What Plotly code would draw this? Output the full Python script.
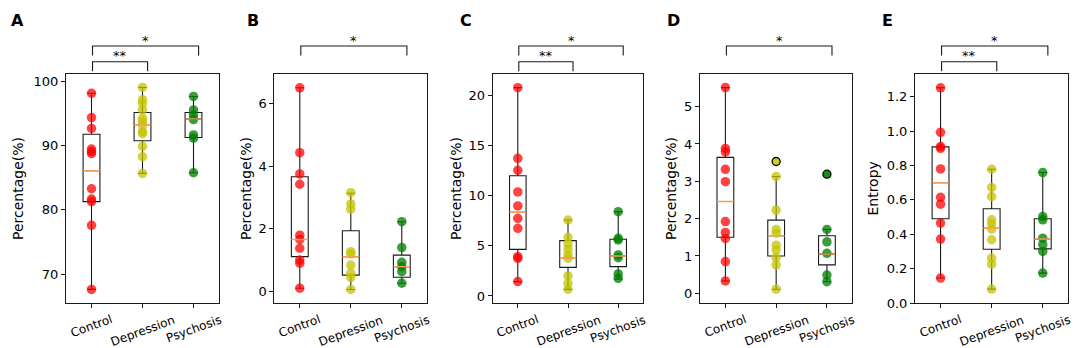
import plotly.graph_objects as go

W, H = 1084, 348

categories = ["Control", "Depression", "Psychosis"]
positions = [1, 2, 3]
panel_letters = ["A", "B", "C", "D", "E"]
y_titles = ["Percentage(%)", "Percentage(%)", "Percentage(%)", "Percentage(%)", "Entropy"]

# ---- Panel A ----
A_control = [98.2, 94.4, 92.7, 89.5, 89.1, 88.8, 83.3, 81.7, 81.3, 77.6, 67.6]
A_depression = [99.1, 97.2, 96.6, 95.6, 94.3, 93.8, 93.2, 92.2, 91.9, 89.9, 88.3, 85.7]
A_psychosis = [97.7, 95.6, 94.8, 94.1, 91.7, 91.2, 85.8]
A_q1 = [81.3, 90.8, 91.3]
A_med = [86.1, 93.3, 94.2]
A_q3 = [91.8, 95.2, 95.2]
A_lo = [67.6, 85.7, 85.8]
A_hi = [98.2, 99.1, 97.7]
A_fliers = [[], [], []]
A_ticks = [70, 80, 90, 100]
A_range = [65.48, 101.28]

# ---- Panel B ----
B_control = [6.51, 4.43, 3.75, 3.42, 1.79, 1.65, 1.37, 0.99, 0.89, 0.09]
B_depression = [3.15, 2.79, 2.62, 1.26, 1.19, 0.83, 0.57, 0.43, 0.05]
B_psychosis = [2.22, 1.39, 0.92, 0.78, 0.62, 0.25]
B_q1 = [1.10, 0.51, 0.44]
B_med = [1.65, 1.10, 0.78]
B_q3 = [3.66, 1.93, 1.15]
B_lo = [0.09, 0.05, 0.25]
B_hi = [6.51, 3.13, 2.22]
B_fliers = [[], [], []]
B_ticks = [0, 2, 4, 6]
B_range = [-0.384, 6.967]

# ---- Panel C ----
C_control = [20.73, 13.7, 12.5, 10.35, 8.96, 7.73, 6.73, 3.91, 3.75, 1.43]
C_depression = [7.56, 5.84, 5.17, 4.64, 4.08, 3.75, 1.99, 1.26, 0.66]
C_psychosis = [8.39, 5.74, 5.57, 4.08, 3.81, 2.19, 1.76]
C_q1 = [4.64, 2.85, 2.92]
C_med = [8.33, 3.75, 3.98]
C_q3 = [11.97, 5.51, 5.64]
C_lo = [1.43, 0.66, 1.66]
C_hi = [20.73, 7.56, 8.39]
C_fliers = [[], [], []]
C_ticks = [0, 5, 10, 15, 20]
C_range = [-0.70, 22.14]

# ---- Panel D ----
D_control = [5.51, 3.88, 3.79, 3.32, 2.99, 1.92, 1.63, 1.47, 0.85, 0.33]
D_depression = [3.13, 2.23, 1.71, 1.61, 1.29, 1.16, 0.96, 0.76, 0.11]
D_psychosis = [1.71, 1.38, 1.07, 0.49, 0.31]
D_q1 = [1.50, 1.00, 0.76]
D_med = [2.46, 1.54, 1.05]
D_q3 = [3.64, 1.96, 1.54]
D_lo = [0.33, 0.11, 0.31]
D_hi = [5.51, 3.13, 1.71]
D_fliers = [[], [3.53], [3.19]]
D_ticks = [0, 1, 2, 3, 4, 5]
D_range = [-0.26, 5.888]

# ---- Panel E ----
E_control = [1.252, 0.993, 0.910, 0.900, 0.780, 0.615, 0.575, 0.465, 0.372, 0.145]
E_depression = [0.778, 0.672, 0.619, 0.484, 0.461, 0.430, 0.368, 0.261, 0.226, 0.081]
E_psychosis = [0.759, 0.503, 0.484, 0.377, 0.339, 0.300, 0.174]
E_q1 = [0.490, 0.313, 0.315]
E_med = [0.700, 0.434, 0.372]
E_q3 = [0.908, 0.548, 0.490]
E_lo = [0.145, 0.081, 0.174]
E_hi = [1.252, 0.778, 0.759]
E_fliers = [[], [], []]
E_ticks = [0.0, 0.2, 0.4, 0.6, 0.8, 1.0, 1.2]
E_range = [0.0, 1.335]

# significance brackets: (group i, group j, label, level)
A_sig = [(1, 3, "*", "outer"), (1, 2, "**", "inner")]
B_sig = [(1, 3, "*", "outer")]
C_sig = [(1, 3, "*", "outer"), (1, 2, "**", "inner")]
D_sig = [(1, 3, "*", "outer")]
E_sig = [(1, 3, "*", "outer"), (1, 2, "**", "inner")]

panels = [
    ([A_control, A_depression, A_psychosis], A_q1, A_med, A_q3, A_lo, A_hi, A_fliers, A_ticks, A_range, A_sig, None),
    ([B_control, B_depression, B_psychosis], B_q1, B_med, B_q3, B_lo, B_hi, B_fliers, B_ticks, B_range, B_sig, None),
    ([C_control, C_depression, C_psychosis], C_q1, C_med, C_q3, C_lo, C_hi, C_fliers, C_ticks, C_range, C_sig, None),
    ([D_control, D_depression, D_psychosis], D_q1, D_med, D_q3, D_lo, D_hi, D_fliers, D_ticks, D_range, D_sig, None),
    ([E_control, E_depression, E_psychosis], E_q1, E_med, E_q3, E_lo, E_hi, E_fliers, E_ticks, E_range, E_sig, ".1f"),
]

# layout geometry (pixels)
x_domains_px = [(66, 219), (274.3, 427.3), (492.7, 643.3), (700, 852.3), (915, 1068.3)]
y_top_px, y_bot_px = 73.5, 303
title_x_px = [18.7, 246.7, 456.7, 671.7, 873.3]
letter_x_px = [17.5, 252.5, 465.5, 673, 887.5]
letter_y_px = 21

colors = ["rgba(255,0,0,0.74)", "rgba(195,195,0,0.74)", "rgba(0,128,0,0.77)"]
solid_colors = ["#ff2020", "#d0d020", "#1a8a1a"]
median_color = "#f5a05a"
box_w = 0.33
FONT = "DejaVu Sans"

fig = go.Figure()
layout = dict(
    width=W, height=H, margin=dict(l=0, r=0, t=0, b=0),
    paper_bgcolor="white", plot_bgcolor="white", showlegend=False,
    font=dict(family=FONT, color="black"),
)
annotations = []
shapes = []

y_dom = [1 - y_bot_px / H, 1 - y_top_px / H]
dom_h = y_bot_px - y_top_px

for k, (groups, q1, med, q3, lo, hi, fliers, ticks, yr, sig, fmt) in enumerate(panels):
    sx = "" if k == 0 else str(k + 1)
    xa, ya = "x" + sx, "y" + sx
    # points
    for g, vals in enumerate(groups):
        fig.add_trace(go.Scatter(
            x=[positions[g]] * len(vals), y=vals, mode="markers", xaxis=xa, yaxis=ya,
            marker=dict(size=9.5, color=colors[g], line=dict(width=0)), hoverinfo="skip"))
    # boxes
    for g in range(3):
        fig.add_trace(go.Box(
            x=[positions[g]], q1=[q1[g]], median=[med[g]], q3=[q3[g]],
            lowerfence=[lo[g]], upperfence=[hi[g]], xaxis=xa, yaxis=ya,
            width=box_w, whiskerwidth=0.5, fillcolor="rgba(0,0,0,0)",
            line=dict(color="#1a1a1a", width=1.1), boxpoints=False, hoverinfo="skip"))
        # median line
        fig.add_trace(go.Scatter(
            x=[positions[g] - box_w / 2, positions[g] + box_w / 2], y=[med[g], med[g]],
            mode="lines", xaxis=xa, yaxis=ya, line=dict(color=median_color, width=1.4),
            hoverinfo="skip"))
        # fliers
        if fliers[g]:
            fig.add_trace(go.Scatter(
                x=[positions[g]] * len(fliers[g]), y=fliers[g], mode="markers", xaxis=xa, yaxis=ya,
                marker=dict(size=8, color=solid_colors[g], line=dict(width=1.3, color="black")),
                hoverinfo="skip"))

    d0, d1 = x_domains_px[k]
    axis_common = dict(showline=True, mirror=True, linecolor="#1a1a1a", linewidth=1,
                       ticks="outside", ticklen=4, tickcolor="#1a1a1a", showgrid=False,
                       zeroline=False, automargin=False)
    layout["xaxis" + sx] = dict(domain=[d0 / W, d1 / W], range=[0.5, 3.5], anchor=ya,
                                tickvals=positions, showticklabels=False, **axis_common)
    ydict = dict(domain=y_dom, range=yr, anchor=xa, tickvals=ticks,
                 tickfont=dict(size=13, family=FONT, color="black"), **axis_common)
    if fmt:
        ydict["tickformat"] = fmt
    layout["yaxis" + sx] = ydict

    # category labels (rotated)
    for g, c in enumerate(categories):
        annotations.append(dict(
            x=positions[g], y=1 - 310 / H, xref=xa, yref="paper", text=c, showarrow=False,
            textangle=-20, xanchor="center", yanchor="top",
            font=dict(size=12, family=FONT, color="black")))
    # y title
    annotations.append(dict(
        x=title_x_px[k] / W, y=0.5, xref="paper", yref=ya + " domain", text=y_titles[k],
        showarrow=False, textangle=-90, xanchor="center", yanchor="middle",
        font=dict(size=14, family=FONT, color="black")))
    # panel letter
    annotations.append(dict(
        x=letter_x_px[k] / W, y=1 - letter_y_px / H, xref="paper", yref="paper",
        text="<b>%s</b>" % panel_letters[k], showarrow=False, xanchor="center", yanchor="middle",
        font=dict(size=16, family=FONT, color="black")))
    # significance brackets
    for (gi, gj, lab, lvl) in sig:
        top_px = 46 if lvl == "outer" else 61.7
        yt = (y_bot_px - top_px) / dom_h
        yb = (y_bot_px - top_px - 9.5) / dom_h
        x_l = positions[gi - 1] + 0.02
        x_r = positions[gj - 1] + 0.1
        shapes.append(dict(
            type="path", xref=xa, yref=ya + " domain",
            path="M %f,%f L %f,%f L %f,%f L %f,%f" % (x_l, yb, x_l, yt, x_r, yt, x_r, yb),
            line=dict(color="#1a1a1a", width=1.1)))
        annotations.append(dict(
            x=(x_l + x_r) / 2, y=(y_bot_px - top_px + 6) / dom_h, xref=xa, yref=ya + " domain",
            text=lab, showarrow=False, xanchor="center", yanchor="middle",
            font=dict(size=13, family=FONT, color="black")))

layout["annotations"] = annotations
layout["shapes"] = shapes
fig.update_layout(**layout)
fig.write_html("out.html", config={"displayModeBar": False},
               post_script="document.body.style.margin='0';document.body.style.overflow='hidden';")
